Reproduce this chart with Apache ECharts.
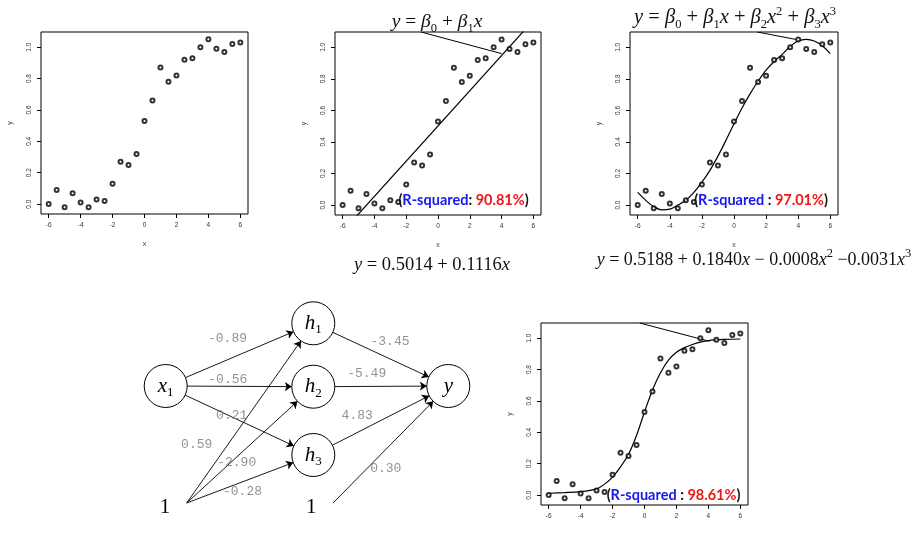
<!DOCTYPE html>
<html><head><meta charset="utf-8">
<script src="https://cdn.jsdelivr.net/npm/echarts@6/dist/echarts.min.js"></script>
<style>html,body{margin:0;padding:0;background:#fff}#c{width:917px;height:534px}</style>
</head><body><div id="c"></div>
<script>
// ---------- data ----------
const xValues = [-6,-5.5,-5,-4.5,-4,-3.5,-3,-2.5,-2,-1.5,-1,-0.5,0,0.5,1,1.5,2,2.5,3,3.5,4,4.5,5,5.5,6];
const yValues = [0.00,0.09,-0.02,0.07,0.01,-0.02,0.03,0.02,0.13,0.27,0.25,0.32,0.53,0.66,0.87,0.78,0.82,0.92,0.93,1.00,1.05,0.99,0.97,1.02,1.03];
const xTicks = [-6,-4,-2,0,2,4,6];
const yTicks = [0,0.2,0.4,0.6,0.8,1.0];
const linearFitX = [-6, 6];
const linearFitY = [-0.168, 1.171];
const cubicFitX = [-6,-5.5,-5,-4.5,-4,-3.5,-3,-2.5,-2,-1.5,-1,-0.5,0,0.5,1,1.5,2,2.5,3,3.5,4,4.5,5,5.5,6];
const cubicFitY = [0.08,0.03,-0.01,-0.03,-0.026,0.0,0.03,0.08,0.145,0.22,0.31,0.41,0.515,0.615,0.705,0.785,0.855,0.91,0.955,1.005,1.04,1.05,1.04,1.01,0.96];
const nnFitX = [-6,-5,-4,-3,-2.5,-2,-1.5,-1,-0.5,0,0.5,1,1.5,2,2.5,3,3.5,4,5,6];
const nnFitY = [0.012,0.016,0.022,0.04,0.07,0.115,0.18,0.26,0.38,0.53,0.67,0.78,0.86,0.91,0.94,0.96,0.975,0.985,0.992,0.995];
const leader2 = [[-1.07,1.097],[4.0,0.96]];
const leader3 = [[1.45,1.097],[3.85,1.05]];
const leader4 = [[-0.3,1.097],[4.07,0.98]];
const rSquared = ['90.81%','97.01%','98.61%'];
const nnNodes = ['x1','h1','h2','h3','y','b1','b2'];
const nnEdges = [
  ['x1','h1',-0.89],['x1','h2',-0.56],['x1','h3',0.21],
  ['b1','h1',0.59],['b1','h2',-2.90],['b1','h3',-0.28],
  ['h1','y',-3.45],['h2','y',-5.49],['h3','y',4.83],['b2','y',0.30]
];
// ---------- layout ----------
const nnPos = {x1:[35.7,96], h1:[183.3,33.3], h2:[183.3,96.7], h3:[183.3,165], y:[318.3,96], b1:[56.7,213], b2:[203,213]};
const nnWeightPos = [[97.5,48.3],[97.8,89.3],[101.7,126],[66.7,155],[106.7,172.7],[112.5,201.7],[260,51.7],[236.7,83.3],[227.2,126],[255.8,179]];
const grids = [
  {left:41, top:32, width:207, height:182},
  {left:335, top:32, width:206, height:183},
  {left:630, top:32, width:208, height:183},
  {left:541, top:323, width:207, height:182},
  {left:130, top:290, width:360, height:240}
];
const serif = 'Liberation Serif';
function mathRich(fs){
  return {
    it:{fontFamily:serif, fontStyle:'italic', fontSize:fs, fill:'#111', lineHeight:26, verticalAlign:'middle'},
    n:{fontFamily:serif, fontSize:fs, fill:'#111', lineHeight:26, verticalAlign:'middle'},
    sub:{fontFamily:serif, fontSize:12.5, fill:'#111', lineHeight:12, verticalAlign:'bottom'},
    sup:{fontFamily:serif, fontSize:12.5, fill:'#111', lineHeight:12, verticalAlign:'top'}
  };
}
const rsRich = {
  k:{fontFamily:'Lato', fontWeight:'bold', fontSize:14.5, fill:'#111'},
  b:{fontFamily:'Lato', fontWeight:'bold', fontSize:14.5, fill:'#1717ee'},
  r:{fontFamily:'Lato', fontWeight:'bold', fontSize:14.5, fill:'#f01515'}
};

const xAxes = [], yAxes = [];
grids.forEach((g,i)=>{
  if (i < 4) {
    xAxes.push({gridIndex:i, type:'value', min:-6.48, max:6.48,
      name: i<3 ? 'x' : '', nameLocation:'middle', nameGap:27,
      nameTextStyle:{fontSize:7, color:'#345', fontFamily:'Liberation Sans'},
      axisLine:{show:false, onZero:false}, splitLine:{show:false},
      axisTick:{show:true, inside:false, length:4, lineStyle:{color:'#000', width:1}, customValues:xTicks},
      axisLabel:{show:true, margin:8, fontSize:6.5, color:'#333', fontFamily:'Liberation Sans', customValues:xTicks, formatter:v=>String(v)}
    });
    yAxes.push({gridIndex:i, type:'value', min:-0.063, max:1.097,
      name:'y', nameLocation:'middle', nameGap:27,
      nameTextStyle:{fontSize:7, color:'#345', fontFamily:'Liberation Sans'},
      axisLine:{show:false, onZero:false}, splitLine:{show:false},
      axisTick:{show:true, length:4, lineStyle:{color:'#000', width:1}, customValues:yTicks},
      axisLabel:{show:true, rotate:90, margin:8, fontSize:6.5, color:'#333', fontFamily:'Liberation Sans', customValues:yTicks, formatter:v=>v.toFixed(1)}
    });
  } else {
    xAxes.push({gridIndex:i, type:'value', min:0, max:360, show:false});
    yAxes.push({gridIndex:i, type:'value', min:0, max:240, inverse:true, show:false});
  }
});

const pts = xValues.map((x,i)=>[x,yValues[i]]);
const series = [];
for (let i=0;i<4;i++) {
  series.push({type:'scatter', xAxisIndex:i, yAxisIndex:i, data:pts, symbol:'emptyCircle', symbolSize:4,
    itemStyle:{color:'#000', borderColor:'#222', borderWidth:0.7}, z:5, silent:true});
}
const lineStyle = {color:'#000', width:1.2};
series.push({type:'line', xAxisIndex:1, yAxisIndex:1, data:linearFitX.map((x,i)=>[x,linearFitY[i]]), showSymbol:false, lineStyle, clip:true});
series.push({type:'line', xAxisIndex:2, yAxisIndex:2, data:cubicFitX.map((x,i)=>[x,cubicFitY[i]]), showSymbol:false, smooth:0.3, lineStyle, clip:true});
series.push({type:'line', xAxisIndex:3, yAxisIndex:3, data:nnFitX.map((x,i)=>[x,nnFitY[i]]), showSymbol:false, smooth:0.3, lineStyle, clip:true});
[[1,leader2],[2,leader3],[3,leader4]].forEach(([g,d])=>{
  series.push({type:'line', xAxisIndex:g, yAxisIndex:g, data:d, showSymbol:false, lineStyle:{color:'#000', width:1}, clip:true});
});

const nodeLabels = {x1:'{it|x}{sub|1}', h1:'{it|h}{sub|1}', h2:'{it|h}{sub|2}', h3:'{it|h}{sub|3}', y:'{it|y}'};
const nodeRich = {
  it:{fontFamily:serif, fontStyle:'italic', fontSize:21, color:'#000', lineHeight:26, verticalAlign:'middle'},
  sub:{fontFamily:serif, fontSize:13, color:'#000', lineHeight:13, verticalAlign:'bottom'},
  one:{fontFamily:serif, fontSize:21, color:'#000'}
};
series.push({
  type:'graph', coordinateSystem:'cartesian2d', xAxisIndex:4, yAxisIndex:4, layout:'none',
  silent:true, edgeSymbol:['none','arrow'], edgeSymbolSize:7,
  lineStyle:{color:'#000', width:0.9, opacity:1, curveness:0},
  data: nnNodes.map(n=>{
    const bias = n[0]==='b';
    return {
      name:n, value:nnPos[n], symbol:'circle', symbolSize: bias ? 1 : 43,
      itemStyle: bias ? {color:'rgba(0,0,0,0)', borderWidth:0} : {color:'#fff', borderColor:'#000', borderWidth:1},
      label: bias ? {show:true, position:'left', distance:16, offset:[0,4], formatter:'{one|1}', rich:nodeRich}
                  : {show:true, position:'inside', formatter:nodeLabels[n], rich:nodeRich}
    };
  }),
  links: nnEdges.map(e=>({source:e[0], target:e[1]})),
  z:3
});
series.push({
  type:'scatter', xAxisIndex:4, yAxisIndex:4, symbolSize:0, silent:true,
  data: nnEdges.map((e,i)=>[nnWeightPos[i][0], nnWeightPos[i][1], e[2].toFixed(2)]),
  label:{show:true, position:'inside', formatter:p=>p.value[2], fontFamily:'Liberation Mono', fontSize:13, color:'#777'},
  z:6
});

function txt(x,y,text,rich){
  return {type:'text', x, y, z:100, style:{text, rich, align:'center', verticalAlign:'middle', textAlign:'center', textVerticalAlign:'middle'}};
}
const graphic = [
  txt(437,22,'{it|y}{n| = }{it|β}{sub|0}{n| + }{it|β}{sub|1}{it|x}', mathRich(19.5)),
  txt(735,18,'{it|y}{n| = }{it|β}{sub|0}{n| + }{it|β}{sub|1}{it|x}{n| + }{it|β}{sub|2}{it|x}{sup|2}{n| + }{it|β}{sub|3}{it|x}{sup|3}', mathRich(20.5)),
  txt(432,265,'{it|y}{n| = 0.5014 + 0.1116}{it|x}', mathRich(18.5)),
  txt(754,260,'{it|y}{n| = 0.5188 + 0.1840}{it|x}{n| − 0.0008}{it|x}{sup|2}{n| −0.0031}{it|x}{sup|3}', mathRich(18)),
  txt(463.5,200,'{k|(}{b|R-squared}{k|: }{r|'+rSquared[0]+'}{k|)}', rsRich),
  txt(761,200,'{k|(}{b|R-squared}{k| : }{r|'+rSquared[1]+'}{k|)}', rsRich),
  txt(673.5,495,'{k|(}{b|R-squared}{k| : }{r|'+rSquared[2]+'}{k|)}', rsRich)
];

const chart = echarts.init(document.getElementById('c'), null, {renderer:'canvas'});
chart.setOption({
  animation:false, backgroundColor:'#fff',
  grid: grids.map((g,i)=>Object.assign({show: i<4, borderColor:'#000', borderWidth:1, backgroundColor:'transparent', containLabel:false}, g)),
  xAxis:xAxes, yAxis:yAxes, series, graphic
});
</script></body></html>
